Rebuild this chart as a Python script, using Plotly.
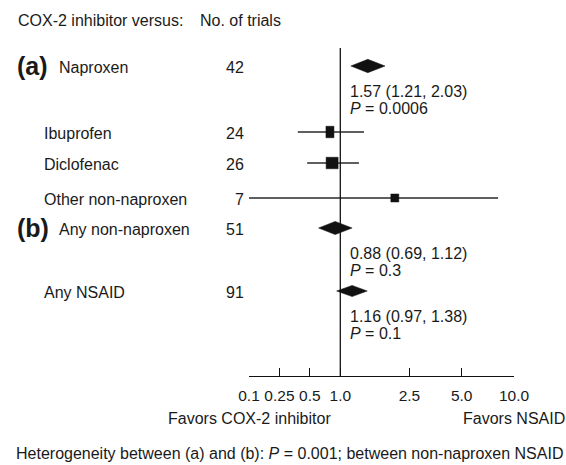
import math
import plotly.graph_objects as go

# ---------------- data ----------------
categories = ["Naproxen", "Ibuprofen", "Diclofenac", "Other non-naproxen", "Any non-naproxen", "Any NSAID"]
group_tags = ["(a)", "", "", "", "(b)", ""]
n_trials = [42, 24, 26, 7, 51, 91]
est = [1.44, 0.79, 0.83, 2.06, 0.89, 1.17]
lo = [1.15, 0.38, 0.47, 0.10, 0.61, 0.92]
hi = [1.81, 1.37, 1.28, 8.1, 1.17, 1.43]
kind = ["pooled", "trial", "trial", "trial", "pooled", "pooled"]
summary_text = ["1.57 (1.21, 2.03)", "", "", "", "0.88 (0.69, 1.12)", "1.16 (0.97, 1.38)"]
p_text = ["0.0006", "", "", "", "0.3", "0.1"]
tick_vals = [0.1, 0.25, 0.5, 1.0, 2.5, 5.0, 10.0]
tick_text = ["0.1", "0.25", "0.5", "1.0", "2.5", "5.0", "10.0"]

# ---------------- layout / style ----------------
W, H = 566, 465
AX_L, AX_R, AX_Y = 249, 514, 376
K = 5.708  # axis units per decade above 1.0
row_y = [66, 132, 163, 198, 228, 291]
box_w = [0, 8, 12, 8, 0, 0]
box_h = [0, 11.5, 11.5, 8, 0, 0]
dia_h = [6.7, 0, 0, 0, 6.6, 5.6]
FONT = "Liberation Sans, Arial, Helvetica, sans-serif"
FS = 16
TXT = "#1a1a1a"
MARK = "#111111"


def to_u(v):
    """Forest-plot scale: evenly spaced ticks below 1, log scale above 1."""
    if v >= 1:
        return math.log10(v) * K
    if v >= 0.5:
        return -1 + math.log(v / 0.5) / math.log(2)
    if v >= 0.25:
        return -2 + math.log(v / 0.25) / math.log(2)
    return -3 + math.log(v / 0.1) / math.log(2.5)


X0, X1 = to_u(tick_vals[0]), to_u(tick_vals[-1])
PX = (AX_R - AX_L) / (X1 - X0)  # pixels per axis unit

fig = go.Figure()

for i, cat in enumerate(categories):
    y = row_y[i]
    if kind[i] == "trial":
        fig.add_trace(go.Scatter(
            x=[to_u(lo[i]), to_u(hi[i])], y=[y, y], mode="lines",
            line=dict(color="#2a2a2a", width=1.3), hoverinfo="skip", showlegend=False))
        hw = box_w[i] / 2 / PX
        hh = box_h[i] / 2
        xc = to_u(est[i])
        fig.add_trace(go.Scatter(
            x=[xc - hw, xc + hw, xc + hw, xc - hw, xc - hw],
            y=[y - hh, y - hh, y + hh, y + hh, y - hh],
            mode="lines", fill="toself", fillcolor=MARK,
            line=dict(color=MARK, width=0.5), hoverinfo="skip", showlegend=False))
    else:
        h = dia_h[i]
        fig.add_trace(go.Scatter(
            x=[to_u(lo[i]), to_u(est[i]), to_u(hi[i]), to_u(est[i]), to_u(lo[i])],
            y=[y, y - h, y, y + h, y],
            mode="lines", fill="toself", fillcolor=MARK,
            line=dict(color=MARK, width=0.5), hoverinfo="skip", showlegend=False))

# reference line at 1.0
fig.add_shape(type="line", xref="x", yref="y", x0=to_u(1.0), x1=to_u(1.0), y0=48, y1=AX_Y,
              line=dict(color="#111", width=1.3))


def px_x(p):
    return (p - AX_L) / (AX_R - AX_L)


def px_y(p):
    return (AX_Y - p) / AX_Y


ann = []


def add_text(text, x, y, anchor="left", size=FS, bold=False):
    if bold:
        text = "<b>" + text + "</b>"
    ann.append(dict(text=text, x=px_x(x), y=px_y(y), xref="paper", yref="paper",
                    xanchor=anchor, yanchor="middle", showarrow=False,
                    font=dict(family=FONT, size=size, color=TXT)))


add_text("COX-2 inhibitor versus:", 16, 21)
add_text("No. of trials", 198, 21)

for i, cat in enumerate(categories):
    y = row_y[i] + 1
    if group_tags[i]:
        add_text(group_tags[i], 15, y - 1, size=25, bold=True)
        add_text(cat, 57, y)
    else:
        add_text(cat, 42, y)
    add_text(str(n_trials[i]), 246, y, anchor="right")
    if summary_text[i]:
        add_text(summary_text[i], 348, row_y[i] + 25)
        add_text("<i>P</i> = " + p_text[i], 348, row_y[i] + 42)

add_text("Favors COX-2 inhibitor", AX_L, 418, anchor="center")
add_text("Favors NSAID", AX_R, 418, anchor="center")
add_text("Heterogeneity between (a) and (b): <i>P</i> = 0.001; between non-naproxen NSAID", 14, 453)

fig.update_layout(
    width=W, height=H,
    margin=dict(l=AX_L, r=W - AX_R, t=0, b=H - AX_Y, pad=0),
    paper_bgcolor="white", plot_bgcolor="white",
    annotations=ann,
    xaxis=dict(range=[X0, X1], tickvals=[to_u(v) for v in tick_vals], ticktext=tick_text,
               showline=True, linecolor="#111", linewidth=1.3, ticks="inside", ticklen=8,
               tickwidth=1.3, tickcolor="#111", showgrid=False, zeroline=False,
               ticklabelstandoff=5,
               tickfont=dict(family=FONT, size=15.5, color=TXT), fixedrange=True),
    yaxis=dict(range=[AX_Y, 0], visible=False, showgrid=False, zeroline=False, fixedrange=True),
    showlegend=False,
)

fig.write_html("out.html")
